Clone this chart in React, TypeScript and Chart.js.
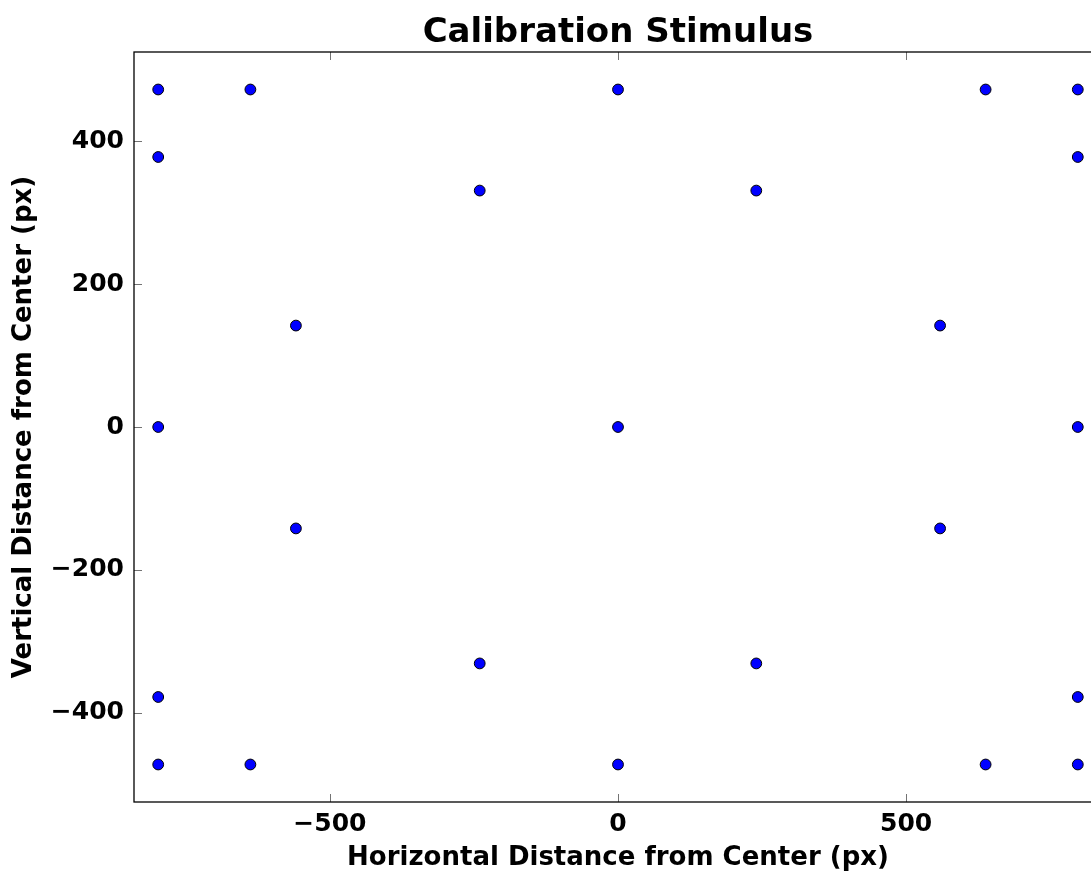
import React, { useEffect, useRef } from "react";
import { Chart, registerables } from "chart.js";

Chart.register(...registerables);

const chartTitle = "Calibration Stimulus";
const xAxisTitle = "Horizontal Distance from Center (px)";
const yAxisTitle = "Vertical Distance from Center (px)";

const pointX = [
  -798, -638, 0, 638, 798,
  -798, 798,
  -240, 240,
  -559, 559,
  -798, 0, 798,
  -559, 559,
  -240, 240,
  -798, 798,
  -798, -638, 0, 638, 798,
];
const pointY = [
  472.5, 472.5, 472.5, 472.5, 472.5,
  378, 378,
  331, 331,
  142, 142,
  0, 0, 0,
  -142, -142,
  -331, -331,
  -378, -378,
  -472.5, -472.5, -472.5, -472.5, -472.5,
];

const xMin = -840;
const xMax = 840;
const yMin = -525;
const yMax = 525;
const xTickValues = [-500, 0, 500];
const yTickValues = [-400, -200, 0, 200, 400];

const FONT = "'DejaVu Sans', 'Liberation Sans', sans-serif";

const fmt = (v: number) => (v < 0 ? "\u2212" + Math.abs(v) : String(v));

const frameTicks = {
  id: "frameTicks",
  afterDraw(chart: any) {
    const { ctx, chartArea } = chart;
    const { left, right, top, bottom } = chartArea;
    const xs = chart.scales.x;
    const ys = chart.scales.y;
    ctx.save();
    ctx.strokeStyle = "rgba(0,0,0,0.55)";
    ctx.lineWidth = 1;
    const L = 8;
    xs.ticks.forEach((t: any) => {
      const px = Math.round(xs.getPixelForValue(t.value)) + 0.5;
      ctx.beginPath();
      ctx.moveTo(px, bottom);
      ctx.lineTo(px, bottom - L);
      ctx.moveTo(px, top);
      ctx.lineTo(px, top + L);
      ctx.stroke();
    });
    ys.ticks.forEach((t: any) => {
      const py = Math.round(ys.getPixelForValue(t.value)) + 0.5;
      ctx.beginPath();
      ctx.moveTo(left, py);
      ctx.lineTo(left + L, py);
      ctx.moveTo(right, py);
      ctx.lineTo(right - L, py);
      ctx.stroke();
    });
    ctx.strokeStyle = "#000";
    ctx.lineWidth = 1.3;
    ctx.strokeRect(left, top, right - left, bottom - top);
    ctx.restore();
  },
};

export default function App() {
  const ref = useRef<HTMLCanvasElement | null>(null);

  useEffect(() => {
    if (!ref.current) return;
    const data = pointX.map((x, i) => ({ x, y: pointY[i] }));
    const chart = new Chart(ref.current, {
      type: "scatter",
      data: {
        datasets: [
          {
            data,
            pointRadius: 5.4,
            pointHoverRadius: 5.4,
            pointBorderWidth: 1,
            pointBorderColor: "#000000",
            pointBackgroundColor: "#0000ff",
            backgroundColor: "#0000ff",
            borderColor: "#000000",
          },
        ],
      },
      options: {
        animation: false,
        responsive: false,
        devicePixelRatio: 1,
        layout: { padding: { left: 0, right: 10, top: 0, bottom: 0 } },
        plugins: {
          legend: { display: false },
          tooltip: { enabled: false },
          title: {
            display: true,
            text: chartTitle,
            fullSize: false,
            color: "#000",
            font: { family: FONT, size: 34, weight: "bold", lineHeight: 1.0 },
            padding: { top: 16.4, bottom: 1.6 },
          },
        },
        scales: {
          x: {
            type: "linear",
            position: "bottom",
            min: xMin,
            max: xMax,
            grid: { display: false, drawTicks: false },
            border: { display: false },
            afterBuildTicks: (scale: any) => {
              scale.ticks = xTickValues.map((v) => ({ value: v }));
            },
            afterFit: (scale: any) => {
              scale.height = 71;
            },
            ticks: {
              color: "#000",
              padding: 7,
              maxRotation: 0,
              font: { family: FONT, size: 25, weight: "bold", lineHeight: 1.2 },
              callback: (v: any) => fmt(Number(v)),
            },
            title: {
              display: true,
              text: xAxisTitle,
              color: "#000",
              font: { family: FONT, size: 26, weight: "bold", lineHeight: 1.0 },
              padding: { top: 0, bottom: 1.6 },
            },
          },
          y: {
            type: "linear",
            position: "left",
            min: yMin,
            max: yMax,
            grid: { display: false, drawTicks: false },
            border: { display: false },
            afterBuildTicks: (scale: any) => {
              scale.ticks = yTickValues.map((v) => ({ value: v }));
            },
            afterFit: (scale: any) => {
              scale.width = 134;
            },
            ticks: {
              color: "#000",
              padding: 10,
              font: { family: FONT, size: 25, weight: "bold", lineHeight: 1.2 },
              callback: (v: any) => fmt(Number(v)),
            },
            title: {
              display: true,
              text: yAxisTitle,
              color: "#000",
              font: { family: FONT, size: 26, weight: "bold", lineHeight: 1.2 },
              padding: { top: 8.4, bottom: 0 },
            },
          },
        },
      },
      plugins: [frameTicks],
    });
    return () => chart.destroy();
  }, []);

  return (
    <div
      style={{
        position: "fixed",
        left: 0,
        top: 0,
        width: 1091,
        height: 873,
        overflow: "hidden",
        background: "#ffffff",
      }}
    >
      <canvas
        ref={ref}
        width={1112}
        height={873}
        style={{ display: "block", width: 1112, height: 873 }}
      />
    </div>
  );
}
